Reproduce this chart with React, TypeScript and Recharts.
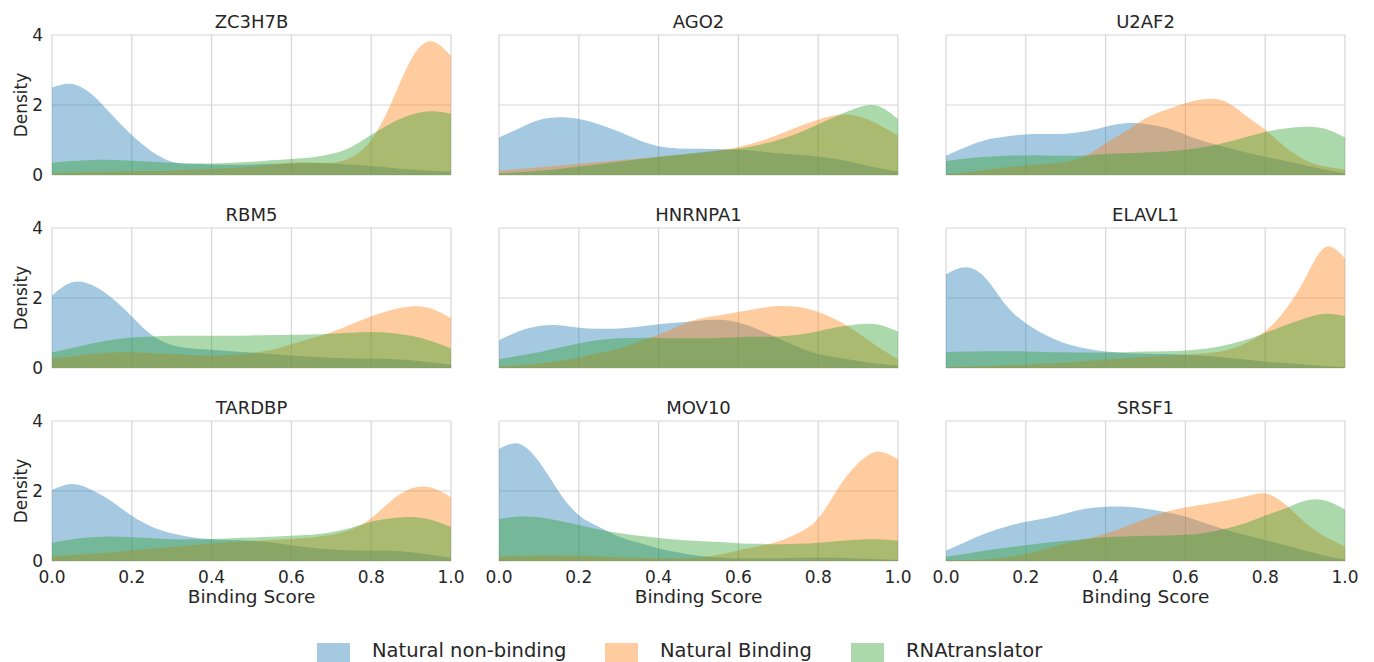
import * as React from "react"
import { AreaChart, Area, XAxis, YAxis, CartesianGrid } from "recharts"

// shared x grid of the density estimates (binding score)
const xGrid = [0, 0.05, 0.1, 0.15, 0.2, 0.25, 0.3, 0.35, 0.4, 0.45, 0.5, 0.55, 0.6, 0.65, 0.7, 0.75, 0.8, 0.85, 0.9, 0.95, 1]
const xTicks = [0, 0.2, 0.4, 0.6, 0.8, 1]
const yTicks = [0, 2, 4]

const proteins = ["ZC3H7B", "AGO2", "U2AF2", "RBM5", "HNRNPA1", "ELAVL1", "TARDBP", "MOV10", "SRSF1"]
const seriesNames = ["Natural non-binding", "Natural Binding", "RNAtranslator"]
const seriesColors = ["#1f77b4", "#ff7f0e", "#2ca02c"]

const zc3h7bNonBinding = [2.5, 2.6, 2.3, 1.72, 1.14, 0.67, 0.38, 0.32, 0.3, 0.29, 0.3, 0.32, 0.33, 0.34, 0.33, 0.3, 0.26, 0.21, 0.16, 0.12, 0.1]
const zc3h7bBinding = [0.05, 0.07, 0.09, 0.1, 0.11, 0.12, 0.13, 0.15, 0.17, 0.2, 0.24, 0.3, 0.35, 0.36, 0.35, 0.5, 1.0, 2.05, 3.3, 3.82, 3.4]
const zc3h7bTranslator = [0.35, 0.4, 0.43, 0.43, 0.41, 0.38, 0.35, 0.33, 0.33, 0.35, 0.38, 0.42, 0.46, 0.5, 0.6, 0.8, 1.15, 1.48, 1.72, 1.82, 1.75]

const ago2NonBinding = [1.07, 1.33, 1.57, 1.65, 1.6, 1.45, 1.24, 1.0, 0.82, 0.76, 0.75, 0.74, 0.72, 0.68, 0.62, 0.58, 0.53, 0.45, 0.33, 0.2, 0.1]
const ago2Binding = [0.12, 0.17, 0.22, 0.27, 0.32, 0.37, 0.42, 0.47, 0.52, 0.57, 0.62, 0.7, 0.8, 0.95, 1.15, 1.38, 1.58, 1.72, 1.68, 1.45, 1.12]
const ago2Translator = [0.05, 0.08, 0.12, 0.17, 0.24, 0.31, 0.38, 0.45, 0.52, 0.58, 0.64, 0.7, 0.76, 0.86, 1.0, 1.2, 1.45, 1.7, 1.93, 1.97, 1.6]

const u2af2NonBinding = [0.55, 0.8, 1.0, 1.1, 1.16, 1.17, 1.18, 1.25, 1.38, 1.48, 1.46, 1.35, 1.15, 0.95, 0.8, 0.65, 0.52, 0.4, 0.28, 0.15, 0.05]
const u2af2Binding = [0.03, 0.08, 0.15, 0.22, 0.28, 0.32, 0.38, 0.55, 0.9, 1.24, 1.62, 1.86, 2.05, 2.17, 2.1, 1.71, 1.29, 0.8, 0.43, 0.24, 0.15]
const u2af2Translator = [0.4, 0.47, 0.52, 0.55, 0.56, 0.56, 0.55, 0.56, 0.6, 0.62, 0.64, 0.67, 0.72, 0.8, 0.93, 1.08, 1.23, 1.33, 1.38, 1.32, 1.07]

const rbm5NonBinding = [2.07, 2.45, 2.37, 2.0, 1.47, 0.94, 0.66, 0.56, 0.52, 0.48, 0.44, 0.4, 0.36, 0.32, 0.29, 0.28, 0.27, 0.26, 0.22, 0.16, 0.1]
const rbm5Binding = [0.27, 0.33, 0.4, 0.44, 0.45, 0.43, 0.4, 0.37, 0.36, 0.38, 0.43, 0.52, 0.68, 0.85, 1.02, 1.25, 1.48, 1.66, 1.76, 1.7, 1.42]
const rbm5Translator = [0.45, 0.57, 0.7, 0.8, 0.87, 0.9, 0.92, 0.92, 0.92, 0.92, 0.93, 0.94, 0.95, 0.96, 0.98, 1.01, 1.03, 1.0, 0.92, 0.77, 0.56]

const hnrnpa1NonBinding = [0.79, 1.05, 1.2, 1.22, 1.15, 1.12, 1.13, 1.18, 1.25, 1.3, 1.35, 1.38, 1.3, 1.1, 0.85, 0.6, 0.4, 0.3, 0.2, 0.12, 0.07]
const hnrnpa1Binding = [0.05, 0.08, 0.13, 0.2, 0.3, 0.42, 0.55, 0.75, 0.95, 1.2, 1.4, 1.5, 1.6, 1.7, 1.77, 1.74, 1.6, 1.35, 1.0, 0.6, 0.25]
const hnrnpa1Translator = [0.25, 0.35, 0.45, 0.58, 0.7, 0.8, 0.85, 0.86, 0.86, 0.85, 0.85, 0.86, 0.88, 0.89, 0.9, 0.95, 1.05, 1.17, 1.25, 1.24, 1.04]

const elavl1NonBinding = [2.68, 2.88, 2.56, 1.8, 1.28, 0.94, 0.7, 0.56, 0.47, 0.43, 0.41, 0.4, 0.38, 0.35, 0.3, 0.24, 0.18, 0.14, 0.1, 0.06, 0.03]
const elavl1Binding = [0.02, 0.04, 0.06, 0.08, 0.1, 0.13, 0.16, 0.2, 0.24, 0.28, 0.32, 0.35, 0.38, 0.42, 0.5, 0.7, 1.05, 1.66, 2.56, 3.45, 3.13]
const elavl1Translator = [0.45, 0.47, 0.48, 0.48, 0.47, 0.46, 0.45, 0.44, 0.44, 0.45, 0.47, 0.48, 0.5, 0.55, 0.65, 0.8, 1.0, 1.22, 1.42, 1.55, 1.48]

const tardbpNonBinding = [2.03, 2.2, 2.03, 1.7, 1.29, 0.98, 0.79, 0.68, 0.62, 0.6, 0.58, 0.53, 0.45, 0.38, 0.33, 0.31, 0.3, 0.29, 0.25, 0.18, 0.1]
const tardbpBinding = [0.14, 0.17, 0.21, 0.25, 0.3, 0.35, 0.4, 0.45, 0.5, 0.54, 0.57, 0.6, 0.63, 0.67, 0.75, 0.9, 1.22, 1.72, 2.07, 2.1, 1.82]
const tardbpTranslator = [0.52, 0.62, 0.68, 0.7, 0.68, 0.65, 0.62, 0.62, 0.63, 0.65, 0.67, 0.69, 0.72, 0.75, 0.82, 0.95, 1.12, 1.22, 1.26, 1.18, 0.97]

const mov10NonBinding = [3.2, 3.35, 2.84, 1.98, 1.31, 0.98, 0.7, 0.52, 0.36, 0.24, 0.15, 0.1, 0.08, 0.08, 0.08, 0.09, 0.1, 0.09, 0.07, 0.05, 0.03]
const mov10Binding = [0.13, 0.15, 0.16, 0.16, 0.15, 0.13, 0.11, 0.09, 0.08, 0.08, 0.1, 0.18, 0.3, 0.42, 0.56, 0.8, 1.22, 2.08, 2.79, 3.12, 2.9]
const mov10Translator = [1.2, 1.27, 1.25, 1.15, 1.03, 0.9, 0.8, 0.72, 0.66, 0.61, 0.57, 0.54, 0.51, 0.49, 0.48, 0.49, 0.52, 0.57, 0.61, 0.62, 0.58]

const srsf1NonBinding = [0.3, 0.55, 0.79, 0.98, 1.12, 1.22, 1.36, 1.49, 1.55, 1.55, 1.49, 1.4, 1.27, 1.08, 0.9, 0.74, 0.6, 0.45, 0.3, 0.15, 0.05]
const srsf1Binding = [0.02, 0.03, 0.05, 0.1, 0.2, 0.35, 0.5, 0.62, 0.78, 0.98, 1.2, 1.4, 1.53, 1.62, 1.72, 1.84, 1.93, 1.62, 1.1, 0.7, 0.41]
const srsf1Translator = [0.12, 0.21, 0.3, 0.38, 0.45, 0.52, 0.58, 0.63, 0.68, 0.7, 0.72, 0.73, 0.75, 0.8, 0.92, 1.08, 1.3, 1.5, 1.72, 1.73, 1.47]

const panelSeries = [
  [zc3h7bNonBinding, zc3h7bBinding, zc3h7bTranslator],
  [ago2NonBinding, ago2Binding, ago2Translator],
  [u2af2NonBinding, u2af2Binding, u2af2Translator],
  [rbm5NonBinding, rbm5Binding, rbm5Translator],
  [hnrnpa1NonBinding, hnrnpa1Binding, hnrnpa1Translator],
  [elavl1NonBinding, elavl1Binding, elavl1Translator],
  [tardbpNonBinding, tardbpBinding, tardbpTranslator],
  [mov10NonBinding, mov10Binding, mov10Translator],
  [srsf1NonBinding, srsf1Binding, srsf1Translator],
]

const FONT = "'DejaVu Sans', sans-serif"
const TEXT = "#262626"
const PLOT_W = 399
const PLOT_H = 140
const Y_AXIS_W = 52
const PAD_T = 15
const PAD_R = 20
const colLeft = (c: number) => 52 + 447 * c
const rowTop = (r: number) => 35 + 193 * r

// empty tick: keeps the tick positions (and so the grid) without drawing labels
const NoTick = () => <g />

function Panel({ index }: { index: number }) {
  const row = Math.floor(index / 3)
  const col = index % 3
  const [nb, b, tr] = panelSeries[index]
  const data = xGrid.map((x, i) => ({ x, s0: nb[i], s1: b[i], s2: tr[i] }))
  const tickStyle = { fill: TEXT, fontSize: 17, fontFamily: FONT }

  return (
    <div style={{ position: "absolute", left: colLeft(col) - Y_AXIS_W, top: rowTop(row) - PAD_T }}>
      <AreaChart
        width={Y_AXIS_W + PLOT_W + PAD_R}
        height={PAD_T + PLOT_H + 35}
        data={data}
        margin={{ top: PAD_T, right: PAD_R, bottom: 5, left: 0 }}
      >
        <CartesianGrid stroke="#d6d6d6" strokeWidth={1.2} />
        <XAxis
          type="number"
          dataKey="x"
          domain={[0, 1]}
          ticks={xTicks}
          interval={0}
          height={30}
          axisLine={false}
          tickLine={false}
          tickSize={0}
          tickMargin={10}
          tick={row === 2 ? tickStyle : NoTick}
          tickFormatter={(v: number) => v.toFixed(1)}
        />
        <YAxis
          type="number"
          domain={[0, 4]}
          ticks={yTicks}
          interval={0}
          width={Y_AXIS_W}
          axisLine={false}
          tickLine={false}
          tickSize={0}
          tickMargin={9}
          tick={col === 0 ? tickStyle : NoTick}
        />
        {seriesColors.map((c, k) => (
          <Area
            key={k}
            type="natural"
            dataKey={`s${k}`}
            stroke="none"
            fill={c}
            fillOpacity={0.4}
            isAnimationActive={false}
            dot={false}
            activeDot={false}
          />
        ))}
      </AreaChart>
    </div>
  )
}

export default function App() {
  const legendX = [317, 605, 851]
  return (
    <div style={{ position: "absolute", left: 0, top: 0, width: 1374, height: 662, background: "#fff", overflow: "hidden", fontFamily: FONT }}>
      {proteins.map((p, i) => (
        <Panel key={p} index={i} />
      ))}
      <svg width={1374} height={662} style={{ position: "absolute", left: 0, top: 0, pointerEvents: "none" }}>
        {proteins.map((p, i) => {
          const row = Math.floor(i / 3)
          const col = i % 3
          return (
            <text key={p} x={colLeft(col) + PLOT_W / 2} y={rowTop(row) - 7} textAnchor="middle" fontSize={18} fill={TEXT} fontFamily={FONT}>
              {p}
            </text>
          )
        })}
        {[0, 1, 2].map((r) => (
          <text
            key={`yl${r}`}
            x={27}
            y={rowTop(r) + PLOT_H / 2}
            transform={`rotate(-90 27 ${rowTop(r) + PLOT_H / 2})`}
            textAnchor="middle"
            fontSize={17}
            fill={TEXT}
            fontFamily={FONT}
          >
            Density
          </text>
        ))}
        {[0, 1, 2].map((c) => (
          <text key={`xl${c}`} x={colLeft(c) + PLOT_W / 2} y={603} textAnchor="middle" fontSize={18.5} fill={TEXT} fontFamily={FONT}>
            Binding Score
          </text>
        ))}
        {seriesNames.map((n, k) => (
          <g key={n}>
            <rect x={legendX[k]} y={643} width={33} height={19} fill={seriesColors[k]} fillOpacity={0.4} />
            <text x={legendX[k] + 55} y={656.5} fontSize={19.5} fill={TEXT} fontFamily={FONT}>
              {n}
            </text>
          </g>
        ))}
      </svg>
    </div>
  )
}
